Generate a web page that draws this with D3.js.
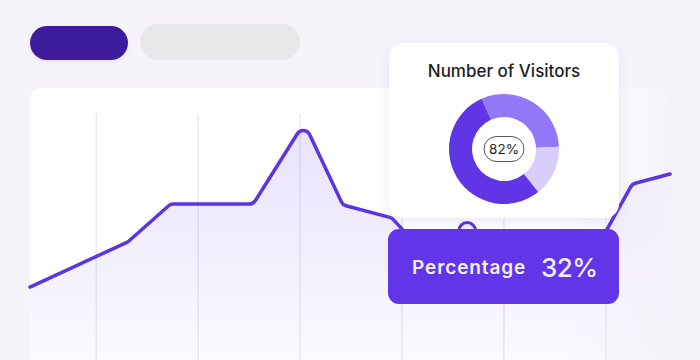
<!DOCTYPE html>
<html>
<head>
<meta charset="utf-8">
<script src="https://cdn.jsdelivr.net/npm/d3@7"></script>
<style>
  html, body { margin: 0; padding: 0; background: #f6f4fa; }
  svg { display: block; }
</style>
</head>
<body>
<svg id="chart" width="700" height="360"></svg>
<script>
// Visitor trend line (x in grid units, y in visitor index)
const trendX = [0.35, 1.31, 1.73, 2.54, 3.04, 3.42, 3.9, 4.1, 4.64, 5.8, 6.26, 6.63];
const trendY = [30.4, 49.2, 65, 65, 98.8, 64.6, 59.2, 50, 50.8, 38.3, 73.3, 77.5];
const markerIndex = 8;
const gridTicks = [1, 2, 3, 4, 5, 6];

// Donut: share of visitors by segment
const donutLabels = ["Returning", "Referral", "New"];
const donutValues = [31, 15, 54];
const donutCenterLabel = "82%";

const cardTitle = "Number of Visitors";
const badgeLabel = "Percentage";
const badgeValue = "32%";

const W = 700, H = 360;
const svg = d3.select("#chart");
const defs = svg.append("defs");

const areaGrad = defs.append("linearGradient")
  .attr("id", "areaGrad").attr("gradientUnits", "userSpaceOnUse")
  .attr("x1", 0).attr("y1", 125).attr("x2", 0).attr("y2", 360);
areaGrad.append("stop").attr("offset", 0).attr("stop-color", "#7c56f0").attr("stop-opacity", 0.17);
areaGrad.append("stop").attr("offset", 1).attr("stop-color", "#7c56f0").attr("stop-opacity", 0.03);

const fadeGrad = defs.append("linearGradient")
  .attr("id", "fadeGrad").attr("gradientUnits", "userSpaceOnUse")
  .attr("x1", 560).attr("y1", 0).attr("x2", 672).attr("y2", 0);
fadeGrad.append("stop").attr("offset", 0).attr("stop-color", "#f4f2f9").attr("stop-opacity", 0);
fadeGrad.append("stop").attr("offset", 1).attr("stop-color", "#f4f2f9").attr("stop-opacity", 0.85);

const shadow = defs.append("filter").attr("id", "shadow")
  .attr("x", "-20%").attr("y", "-20%").attr("width", "140%").attr("height", "150%");
shadow.append("feDropShadow").attr("dx", 0).attr("dy", 4).attr("stdDeviation", 6)
  .attr("flood-color", "#5a3fb0").attr("flood-opacity", 0.12);

const pillShadow = defs.append("filter").attr("id", "pillShadow")
  .attr("x", "-20%").attr("y", "-40%").attr("width", "140%").attr("height", "200%");
pillShadow.append("feDropShadow").attr("dx", 0).attr("dy", 2).attr("stdDeviation", 2)
  .attr("flood-color", "#c060e0").attr("flood-opacity", 0.15);

// Header pills
svg.append("rect").attr("x", 30).attr("y", 26).attr("width", 98).attr("height", 34)
  .attr("rx", 17).attr("fill", "#3d1c9c").attr("filter", "url(#pillShadow)");
svg.append("rect").attr("x", 140).attr("y", 24).attr("width", 160).attr("height", 36)
  .attr("rx", 18).attr("fill", "#e8e8eb");

// Chart card
svg.append("rect").attr("x", 30).attr("y", 88).attr("width", 640).attr("height", 300)
  .attr("rx", 12).attr("fill", "#ffffff");

const x = d3.scaleLinear().domain([0.35, 6.63]).range([30, 670]);
const y = d3.scaleLinear().domain([0, 100]).range([360, 120]);

// Vertical grid
svg.append("g").selectAll("line").data(gridTicks).join("line")
  .attr("x1", d => x(d)).attr("x2", d => x(d))
  .attr("y1", 114).attr("y2", H)
  .attr("stroke", "#ebe9f0").attr("stroke-width", 1.5);

const pts = trendX.map((v, i) => [x(v), y(trendY[i])]);

// Polyline with softly rounded corners
function roundedPath(p, r) {
  const path = d3.path();
  path.moveTo(p[0][0], p[0][1]);
  for (let i = 1; i < p.length - 1; i++) {
    path.arcTo(p[i][0], p[i][1], p[i + 1][0], p[i + 1][1], r);
  }
  const last = p[p.length - 1];
  path.lineTo(last[0], last[1]);
  return path;
}

const linePath = roundedPath(pts, 7).toString();
const areaPath = linePath + `L${pts[pts.length - 1][0]},${H}L${pts[0][0]},${H}Z`;

svg.append("path").attr("d", areaPath).attr("fill", "url(#areaGrad)");

// Soft fade at the right edge of the card
svg.append("rect").attr("x", 560).attr("y", 88).attr("width", 112).attr("height", 272)
  .attr("fill", "url(#fadeGrad)");

svg.append("path").attr("d", linePath)
  .attr("fill", "none").attr("stroke", "#5b35e2").attr("stroke-width", 3.5)
  .attr("stroke-linejoin", "round").attr("stroke-linecap", "round");

svg.append("circle")
  .attr("cx", x(trendX[markerIndex])).attr("cy", y(trendY[markerIndex]) - 7)
  .attr("r", 8.5).attr("fill", "#f2eefe").attr("stroke", "#5b35e2").attr("stroke-width", 3);

// Visitors card with donut
const card = svg.append("g");
card.append("rect").attr("x", 389).attr("y", 43).attr("width", 230).attr("height", 175)
  .attr("rx", 14).attr("fill", "#ffffff").attr("filter", "url(#shadow)");
card.append("text").attr("x", 504).attr("y", 77).attr("text-anchor", "middle")
  .attr("font-family", "Inter, 'Noto Sans', sans-serif").attr("font-size", 17)
  .attr("font-weight", 500).attr("fill", "#1d1d24").text(cardTitle);

const donutColor = d3.scaleOrdinal().domain(donutLabels).range(["#9378f7", "#d9cdfc", "#6035e6"]);
const pie = d3.pie().sort(null).value(d => d.value)
  .startAngle(-24 * Math.PI / 180).endAngle(336 * Math.PI / 180);
const arc = d3.arc().innerRadius(32).outerRadius(55);
const donutData = donutLabels.map((l, i) => ({ label: l, value: donutValues[i] }));
const dg = card.append("g").attr("transform", "translate(504,149)");
dg.selectAll("path").data(pie(donutData)).join("path")
  .attr("d", arc).attr("fill", d => donutColor(d.data.label));
dg.append("rect").attr("x", -20).attr("y", -12.5).attr("width", 40).attr("height", 25)
  .attr("rx", 12.5).attr("fill", "#ffffff").attr("stroke", "#2a2a30").attr("stroke-width", 0.8);
dg.append("text").attr("x", 0).attr("y", 5).attr("text-anchor", "middle")
  .attr("font-family", "Inter, 'Noto Sans', sans-serif").attr("font-size", 13.5)
  .attr("fill", "#1d1d24").text(donutCenterLabel);

// Percentage badge
const badge = svg.append("g");
badge.append("rect").attr("x", 388).attr("y", 229).attr("width", 231).attr("height", 75)
  .attr("rx", 11).attr("fill", "#6236e8");
badge.append("text").attr("x", 412).attr("y", 274)
  .attr("font-family", "Inter, 'Noto Sans', sans-serif").attr("font-size", 19)
  .attr("letter-spacing", 0.9)
  .attr("font-weight", 600).attr("fill", "#f3efff").text(badgeLabel);
badge.append("text").attr("x", 541).attr("y", 277)
  .attr("font-family", "Inter, 'Noto Sans', sans-serif").attr("font-size", 26)
  .attr("letter-spacing", -0.5)
  .attr("font-weight", 500).attr("fill", "#f3efff").text(badgeValue);
</script>
</body>
</html>
